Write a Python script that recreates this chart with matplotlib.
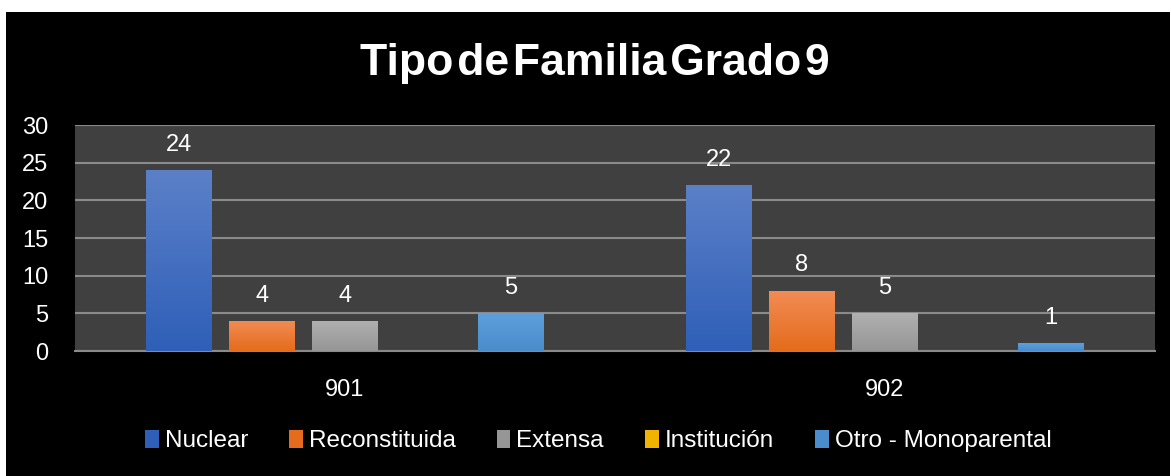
import numpy as np
import matplotlib.pyplot as plt
from matplotlib.patches import Rectangle
from matplotlib.colors import LinearSegmentedColormap

plt.rcParams['font.family'] = ['Liberation Sans', 'DejaVu Sans']

grupos = ["901", "902"]
series = ["Nuclear", "Reconstituida", "Extensa", "Institución", "Otro - Monoparental"]
valores = {
    "Nuclear": [24, 22],
    "Reconstituida": [4, 8],
    "Extensa": [4, 5],
    "Institución": [0, 0],
    "Otro - Monoparental": [5, 1],
}
# top / bottom colours of the gradient fill
colores = {
    "Nuclear": ("#5b80c8", "#2f5fb8"),
    "Reconstituida": ("#f28c55", "#e46c1c"),
    "Extensa": ("#b0b0b0", "#969696"),
    "Institución": ("#ffc000", "#f0b400"),
    "Otro - Monoparental": ("#5d9fdc", "#4a8dcc"),
}

fig = plt.figure(figsize=(11.71, 4.76), dpi=100)
fig.patch.set_facecolor("white")
fig.patches.append(Rectangle((6 / 1171, 0), 1164 / 1171, 1 - 12 / 476,
                             transform=fig.transFigure, facecolor="black",
                             edgecolor="none", zorder=-5))

ax = fig.add_axes([75 / 1171, 1 - 351 / 476, 1080 / 1171, 226 / 476])
ax.set_facecolor("#404040")

x = np.arange(len(grupos))
paso = 83 / 540
ancho = 66 / 540
for i, s in enumerate(series):
    pos = x + (i - 2) * paso
    barras = ax.bar(pos, valores[s], ancho, color=colores[s][1], zorder=3,
                    label=s)
    cmap = LinearSegmentedColormap.from_list(s, [colores[s][1], colores[s][0]])
    for b, v in zip(barras, valores[s]):
        if v == 0:
            continue
        grad = np.linspace(0, 1, 100).reshape(-1, 1)
        im = ax.imshow(grad, cmap=cmap, origin="lower", aspect="auto",
                       extent=[b.get_x(), b.get_x() + b.get_width(), 0, v],
                       zorder=3.5)
        im.set_clip_path(b)
        ax.text(b.get_x() + b.get_width() / 2, v + 1.9, str(v), ha="center",
                va="bottom", color="white", fontsize=17, zorder=5)

ax.set_xlim(-0.5, 1.5)
ax.set_ylim(0, 30)
ax.set_yticks(range(0, 31, 5))
ax.set_xticks(x)
ax.set_xticklabels(grupos)
ax.yaxis.grid(True, color="#8a8a8a", linewidth=1.5, zorder=1)
ax.set_axisbelow(True)
for sp in ["top", "right", "left"]:
    ax.spines[sp].set_visible(False)
ax.spines["bottom"].set_color("#8a8a8a")
ax.spines["bottom"].set_linewidth(1.5)
ax.tick_params(axis="y", length=0, pad=19, colors="white", labelsize=17)
ax.tick_params(axis="x", length=0, pad=20, colors="white", labelsize=17)

fig.text(0.508, 1 - 64 / 476, "Tipo\u200ade\u200aFamilia\u200aGrado\u200a9",
         ha="center", va="center", color="white", fontsize=32,
         fontweight="bold", family=["Liberation Sans", "DejaVu Sans"])

leg = ax.legend(loc="center", bbox_to_anchor=(0.511, 1 - 441 / 476),
                bbox_transform=fig.transFigure, ncol=5, frameon=False,
                fontsize=17.5, labelcolor="white", handlelength=0.55,
                handleheight=0.8, handletextpad=0.25, columnspacing=1.7)

fig.savefig("out.png", dpi=100, facecolor=fig.get_facecolor())
